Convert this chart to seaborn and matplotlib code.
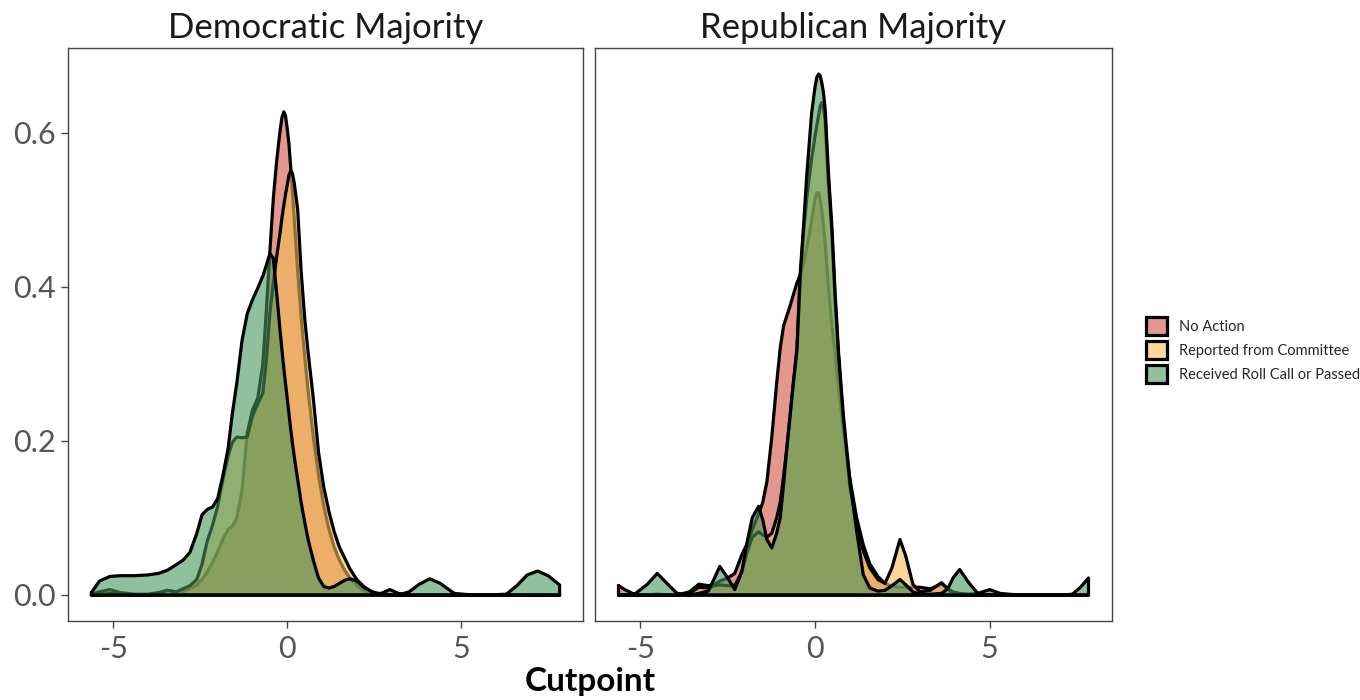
import matplotlib
matplotlib.use("Agg")
import matplotlib.pyplot as plt
import pandas as pd
import seaborn as sns
from matplotlib.patches import Patch

# Bill outcome groups and their fill colours
groups = ["No Action", "Reported from Committee", "Received Roll Call or Passed"]
fill_colors = ["#D2523F", "#F3BE53", "#48965A"]
panel_titles = ["Democratic Majority", "Republican Majority"]

# Density of cutpoints, Democratic majority
dem_x = [-5.63, -5.4, -5.1, -4.8, -4.4, -4.0, -3.7, -3.45, -3.2, -3.0, -2.8, -2.6,
         -2.45, -2.3, -2.15, -2.0, -1.85, -1.7, -1.58, -1.45, -1.3, -1.15, -1.0,
         -0.85, -0.7, -0.6, -0.5, -0.4, -0.3, -0.2, -0.15, -0.1, -0.05, 0.0, 0.05,
         0.1, 0.15, 0.2, 0.3, 0.4,
         0.5, 0.6, 0.75, 0.9, 1.05, 1.2, 1.35, 1.5, 1.65, 1.8, 2.0, 2.2, 2.45, 2.7,
         2.95, 3.2, 3.5, 3.8, 4.1, 4.4, 4.8, 5.3, 5.8, 6.3, 6.6, 6.9, 7.2, 7.5, 7.83]
dem_no_action = [0.001, 0.004, 0.007, 0.003, 0.001, 0.001, 0.003, 0.006, 0.004, 0.004,
                 0.008, 0.013, 0.02, 0.03, 0.042, 0.056, 0.072, 0.085, 0.089, 0.1,
                 0.135, 0.21, 0.24, 0.255, 0.3, 0.37, 0.445, 0.515, 0.565, 0.605,
                 0.62, 0.627, 0.622, 0.605, 0.585, 0.555, 0.523,
                 0.49, 0.42, 0.36, 0.31, 0.265, 0.205, 0.155,
                 0.115, 0.085, 0.062, 0.045, 0.032, 0.022, 0.012, 0.005, 0.002, 0.002,
                 0.007, 0.002, 0.0, 0.0, 0.0, 0.0, 0.0, 0.0, 0.0, 0.0, 0.0, 0.0, 0.0,
                 0.0, 0.0]
dem_reported = [0.0, 0.0, 0.002, 0.001, 0.0, 0.0, 0.002, 0.006, 0.004, 0.008,
                0.012, 0.02, 0.04, 0.07, 0.09, 0.115, 0.15, 0.18, 0.198, 0.205,
                0.204, 0.205, 0.232, 0.248, 0.262, 0.305, 0.365, 0.405, 0.44, 0.472,
                0.49, 0.505, 0.52, 0.532, 0.545, 0.55, 0.547,
                0.535, 0.5, 0.42, 0.36, 0.315, 0.255, 0.185,
                0.14, 0.108, 0.082, 0.062, 0.048, 0.034, 0.02, 0.011, 0.003, 0.0,
                0.0, 0.0, 0.0, 0.0, 0.0, 0.0, 0.0, 0.0, 0.0, 0.0, 0.0, 0.0, 0.0,
                0.0, 0.0]
dem_passed = [0.003, 0.018, 0.024, 0.025, 0.025, 0.026, 0.028, 0.032, 0.039, 0.045,
              0.055, 0.08, 0.104, 0.111, 0.114, 0.125, 0.155, 0.19, 0.235, 0.275,
              0.33, 0.365, 0.383, 0.398, 0.414, 0.428, 0.443, 0.437, 0.39, 0.34,
              0.317, 0.295, 0.275, 0.255, 0.235, 0.215, 0.197,
              0.18, 0.15, 0.12, 0.095, 0.072, 0.045, 0.022,
              0.011, 0.009, 0.011, 0.015, 0.019, 0.021, 0.018, 0.01, 0.004, 0.001,
              0.0, 0.0, 0.004, 0.014, 0.021, 0.015, 0.002, 0.0, 0.0, 0.001, 0.012,
              0.026, 0.031, 0.025, 0.013]

# Density of cutpoints, Republican majority
rep_x = [-5.63, -5.45, -5.14, -4.8, -4.52, -4.2, -3.95, -3.6, -3.33, -3.06, -2.9,
         -2.73, -2.5, -2.3, -2.1, -1.95, -1.8, -1.62, -1.5, -1.38, -1.24, -1.1, -1.0,
         -0.9, -0.81, -0.71, -0.62, -0.52, -0.43, -0.33, -0.24, -0.1, 0.0, 0.05, 0.1,
         0.145, 0.19, 0.24,
         0.29, 0.38, 0.48, 0.57, 0.67, 0.81, 1.0, 1.19, 1.38, 1.57, 1.8, 2.0, 2.2,
         2.43, 2.6, 2.8, 3.0, 3.3, 3.62, 3.8, 3.95, 4.14, 4.4, 4.66, 5.0, 5.3, 5.8,
         6.5, 7.1, 7.37, 7.6, 7.83]
rep_no_action = [0.012, 0.007, 0.0, 0.0, 0.001, 0.0, 0.0, 0.004, 0.014, 0.012, 0.013,
                 0.018, 0.022, 0.028, 0.052, 0.066, 0.085, 0.105, 0.12, 0.147, 0.205,
                 0.275, 0.32, 0.35, 0.362, 0.376, 0.39, 0.405, 0.415, 0.43, 0.45,
                 0.485, 0.515, 0.522, 0.522, 0.513, 0.5, 0.48,
                 0.455, 0.4, 0.35, 0.315, 0.27, 0.215,
                 0.15, 0.1, 0.065, 0.04, 0.024, 0.015, 0.011, 0.01, 0.01, 0.01, 0.01,
                 0.008, 0.014, 0.008, 0.004, 0.002, 0.001, 0.002, 0.007, 0.002, 0.0,
                 0.0, 0.0, 0.0, 0.0, 0.0]
rep_reported = [0.0, 0.0, 0.0, 0.0, 0.0, 0.0, 0.0, 0.002, 0.01, 0.009, 0.012, 0.013,
                0.012, 0.012, 0.03, 0.055, 0.075, 0.082, 0.078, 0.075, 0.08, 0.1,
                0.12, 0.155, 0.19, 0.235, 0.275, 0.316, 0.405, 0.472, 0.514, 0.566,
                0.596, 0.61, 0.622, 0.634, 0.639, 0.632,
                0.615, 0.535, 0.47, 0.385, 0.31, 0.225, 0.14,
                0.092, 0.057, 0.035, 0.02, 0.015, 0.035, 0.072, 0.05, 0.014, 0.004,
                0.006, 0.016, 0.008, 0.002, 0.0, 0.0, 0.0, 0.0, 0.0, 0.0, 0.0, 0.0,
                0.0, 0.0, 0.0]
rep_passed = [0.0, 0.0, 0.002, 0.014, 0.028, 0.013, 0.002, 0.0, 0.002, 0.005, 0.02,
              0.037, 0.022, 0.007, 0.03, 0.068, 0.1, 0.115, 0.098, 0.072, 0.061, 0.08,
              0.1, 0.145, 0.19, 0.235, 0.277, 0.32, 0.415, 0.479, 0.544, 0.625, 0.66,
              0.672, 0.676, 0.674, 0.665, 0.652,
              0.63, 0.55, 0.479, 0.395, 0.316, 0.233, 0.147, 0.083,
              0.026, 0.009, 0.005, 0.006, 0.012, 0.02, 0.013, 0.004, 0.001, 0.001,
              0.002, 0.008, 0.022, 0.033, 0.016, 0.002, 0.0, 0.0, 0.0, 0.0, 0.0,
              0.001, 0.01, 0.022]

x_ticks = [-5, 0, 5]
y_ticks = [0.0, 0.2, 0.4, 0.6]
y_tick_labels = ["0.0", "0.2", "0.4", "0.6"]

sns.set_theme(style="white")
plt.rcParams["font.family"] = ["Lato", "DejaVu Sans"]

W, H = 1360, 700
fig = plt.figure(figsize=(W / 100, H / 100), dpi=100)
ax_dem = fig.add_axes([68 / W, 1 - 621 / H, 515 / W, 573 / H])
ax_rep = fig.add_axes([595 / W, 1 - 621 / H, 517 / W, 573 / H])

panel_data = [
    (ax_dem, dem_x, [dem_no_action, dem_reported, dem_passed]),
    (ax_rep, rep_x, [rep_no_action, rep_reported, rep_passed]),
]

ALPHA = 0.6
for ax, xs, series in panel_data:
    for k, (name, ys, color) in enumerate(zip(groups, series, fill_colors)):
        # each group: translucent fill, then its outline; later groups cover earlier
        ax.fill_between(xs, ys, 0, color=color, alpha=ALPHA, linewidth=0,
                        zorder=2 + 2 * k)
        outline = pd.DataFrame({
            "x": list(xs) + [xs[-1], xs[0], xs[0]],
            "y": list(ys) + [0.0, 0.0, ys[0]],
        })
        sns.lineplot(data=outline, x="x", y="y", sort=False, estimator=None,
                     color="black", linewidth=2.3, ax=ax, zorder=3 + 2 * k,
                     solid_joinstyle="round", solid_capstyle="round")

xmin, xmax = -5.63, 7.83
xpad = (xmax - xmin) * 0.05
ymax = 0.676
ypad = ymax * 0.05
for i, ax in enumerate([ax_dem, ax_rep]):
    ax.set_xlim(xmin - xpad, xmax + xpad)
    ax.set_ylim(-ypad, ymax + ypad)
    ax.set_xlabel("")
    ax.set_ylabel("")
    for sp in ax.spines.values():
        sp.set_visible(True)
        sp.set_color("#444444")
        sp.set_linewidth(1.0)
        sp.set_zorder(20)
    ax.set_xticks(x_ticks)
    ax.set_xticklabels([str(t) for t in x_ticks])
    ax.tick_params(axis="x", length=5, width=1, color="#444444", labelsize=22,
                   labelcolor="#555555", pad=5, bottom=True)
    ax.set_yticks(y_ticks)
    if i == 0:
        ax.set_yticklabels(y_tick_labels)
        ax.tick_params(axis="y", length=5, width=1, color="#444444", labelsize=22,
                       labelcolor="#555555", pad=4, left=True)
    else:
        ax.tick_params(axis="y", left=False, labelleft=False)
    ax.grid(False)
    ax.set_title(panel_titles[i], fontsize=25, color="#1a1a1a", pad=7)

fig.text(590 / W, 1 - 681 / H, "Cutpoint", ha="center", va="center",
         fontsize=24, fontweight="bold", color="black")

handles = []
for g, c in zip(groups, fill_colors):
    rgba = matplotlib.colors.to_rgba(c)
    face = tuple(ALPHA * v + (1 - ALPHA) for v in rgba[:3]) + (1.0,)
    handles.append(Patch(facecolor=face, edgecolor="black", linewidth=2.3, label=g))
fig.legend(handles=handles, loc="center left", bbox_to_anchor=(1139 / W, 1 - 350 / H),
           frameon=False, fontsize=10.5, handlelength=1.45, handleheight=1.5,
           handletextpad=0.8, labelspacing=0.42, borderpad=0)

fig.savefig("out.png", dpi=100)
